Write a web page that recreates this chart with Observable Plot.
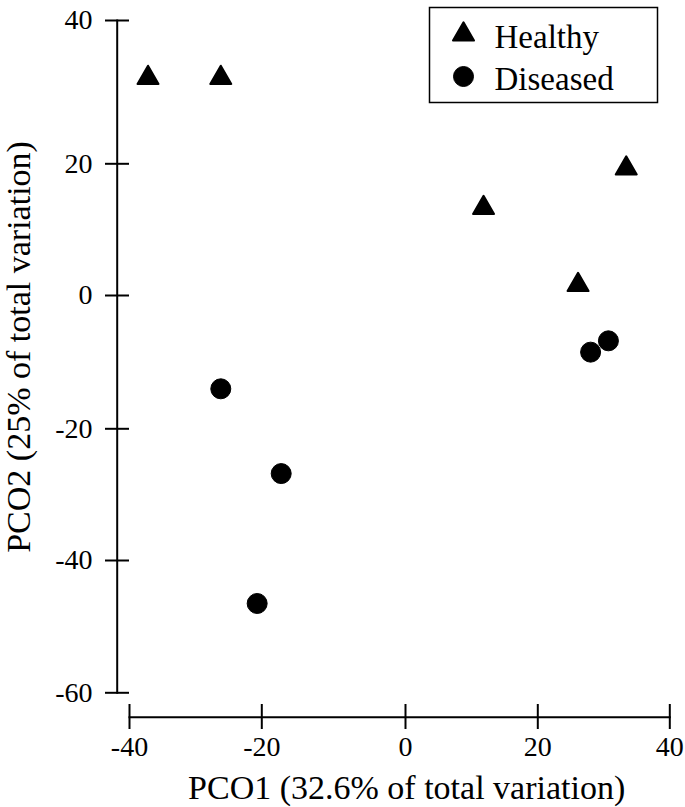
<!DOCTYPE html>
<html><head><meta charset="utf-8">
<script src="https://cdn.jsdelivr.net/npm/d3@7"></script>
<script src="https://cdn.jsdelivr.net/npm/@observablehq/plot@0.6"></script>
<style>
html,body{margin:0;padding:0;background:#fff;overflow:hidden}
#wrap{position:relative;width:685px;height:807px}
#legend{position:absolute;left:428px;top:6px}
svg, svg text, svg tspan{font-family:"Liberation Serif","LiberationSerif","Tinos","DejaVu Serif",serif !important}
</style></head><body><div id="wrap"></div>
<script>
// ---- data ----
const groups = ["Healthy", "Diseased"];
const healthyX = [-37.2, -26.2, 11.8, 33.4, 26.1];
const healthyY = [32.0, 32.0, 13.3, 19.3, 1.6];
const diseasedX = [28.0, 30.7, -26.2, -17.3, -20.7];
const diseasedY = [-8.5, -6.8, -14.0, -26.8, -46.5];
const xTicks = [-40, -20, 0, 20, 40];
const yTicks = [-60, -40, -20, 0, 20, 40];
const xTitle = "PCO1 (32.6% of total variation)";
const yTitle = "PCO2 (25% of total variation)";

const healthy = healthyX.map((x, i) => ({x, y: healthyY[i], group: groups[0]}));
const diseased = diseasedX.map((x, i) => ({x, y: diseasedY[i], group: groups[1]}));

const font = "Liberation Serif, DejaVu Serif, serif";

const chart = Plot.plot({
  width: 685, height: 807,
  marginLeft: 129, marginRight: 15.7, marginTop: 20, marginBottom: 114.7,
  style: {"font-family": font, "font-size": "28px", color: "black", background: "white", overflow: "visible"},
  x: {type: "linear", domain: xTicks, range: [129, 261.3, 405, 537.3, 669.3]},
  y: {type: "linear", domain: yTicks, range: [692.3, 560, 428.3, 295, 163.3, 20]},
  marks: [
    Plot.frame({anchor: "left", dx: -12.3, strokeWidth: 2}),
    Plot.frame({anchor: "bottom", dy: 24.4, strokeWidth: 2}),
    Plot.axisY({ticks: yTicks, tickSize: 24, tickPadding: 13, tickFormat: d => String(d), label: null, strokeWidth: 2}),
    Plot.axisX({ticks: xTicks, tickSize: 25, tickPadding: 7, dy: 11.7, tickFormat: d => String(d), label: null, strokeWidth: 2}),
    Plot.text([xTitle], {text: d => d, frameAnchor: "bottom", lineAnchor: "bottom", textAnchor: "middle", dx: 7, dy: 105.7, fontSize: 34}),
    Plot.text([yTitle], {text: d => d, frameAnchor: "left", rotate: -90, textAnchor: "middle", lineAnchor: "bottom", dx: -100, dy: -9.7, fontSize: 34}),
    Plot.dot(healthy, {x: "x", y: "y", symbol: "triangle", r: 7.8, fill: "black", stroke: "black", strokeWidth: 2, strokeLinejoin: "round"}),
    Plot.dot(diseased, {x: "x", y: "y", symbol: "circle", r: 10, fill: "black", stroke: "black", strokeWidth: 1})
  ]
});

const legend = Plot.plot({
  width: 230, height: 97, margin: 1,
  style: {"font-family": font, "font-size": "33px", color: "black", background: "white", overflow: "visible"},
  y: {type: "point", domain: groups, range: [27.5, 69.5], padding: 0, axis: null},
  marks: [
    Plot.frame({strokeWidth: 1.5}),
    Plot.dot([groups[0]], {y: d => d, frameAnchor: "left", dx: 34, symbol: "triangle", r: 7.8, fill: "black", stroke: "black", strokeWidth: 2, strokeLinejoin: "round"}),
    Plot.dot([groups[1]], {y: d => d, frameAnchor: "left", dx: 34, symbol: "circle", r: 10, fill: "black", stroke: "black", strokeWidth: 1}),
    Plot.text(groups, {y: d => d, text: d => d, frameAnchor: "left", textAnchor: "start", lineAnchor: "middle", dx: 65, dy: 3})
  ]
});
legend.id = "legend";

const wrap = document.getElementById("wrap");
wrap.appendChild(chart);
wrap.appendChild(legend);
</script>
</body></html>
